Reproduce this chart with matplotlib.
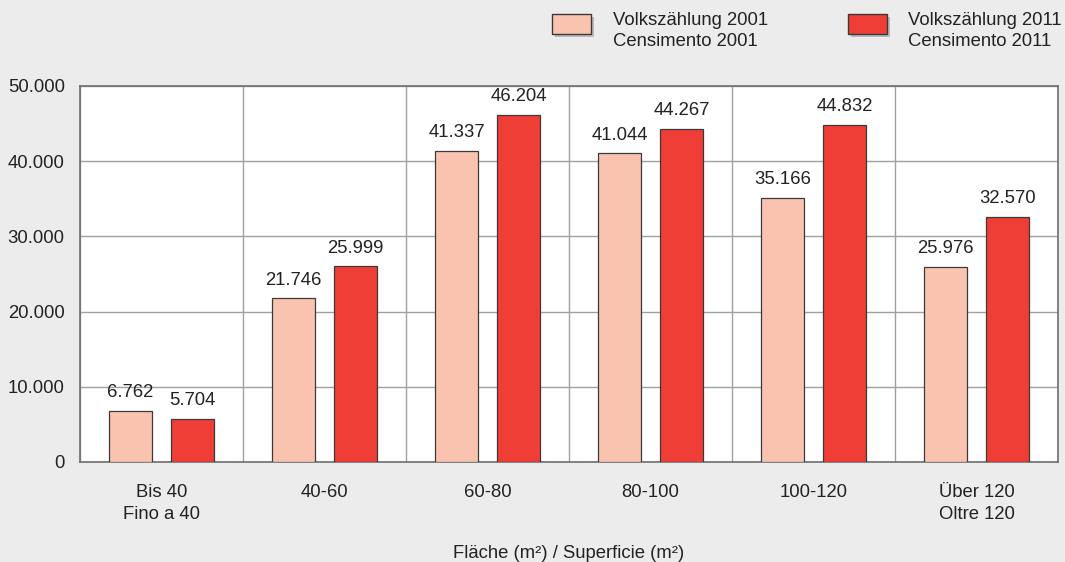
import numpy as np
import matplotlib.pyplot as plt
from matplotlib.patches import Rectangle

plt.rcParams.update({'font.family': ['Liberation Sans', 'DejaVu Sans'], 'font.size': 13.3})

# Daten
kategorien = ["Bis 40\nFino a 40", "40-60", "60-80", "80-100", "100-120", "Über 120\nOltre 120"]
werte_2001 = [6762, 21746, 41337, 41044, 35166, 25976]
werte_2011 = [5704, 25999, 46204, 44267, 44832, 32570]
serien = ["Volkszählung 2001\nCensimento 2001", "Volkszählung 2011\nCensimento 2011"]
yticks = [0, 10000, 20000, 30000, 40000, 50000]

farbe_hell = '#f9c3b0'
farbe_rot = '#ee3e36'
bg = '#ececec'

def fmt(v):
    return f"{v:,}".replace(",", ".")

fig = plt.figure(figsize=(10.65, 5.62), dpi=100, facecolor=bg)
ax = fig.add_axes([80/1065, 1 - 462/562, 978/1065, 376/562])
ax.set_facecolor('white')

x = np.arange(len(kategorien))
b = 0.265
off = 0.19
for dx, werte, farbe in [(-off, werte_2001, farbe_hell), (off, werte_2011, farbe_rot)]:
    bars = ax.bar(x + dx, werte, width=b, color=farbe, edgecolor='#3a3a3a', linewidth=0.9, zorder=3)
    for r, v in zip(bars, werte):
        ax.text(r.get_x() + r.get_width() / 2, v + 1300, fmt(v), ha='center', va='bottom',
                color='#222222')

ax.set_xlim(-0.5, len(kategorien) - 0.5)
ax.set_ylim(0, 50000)
ax.set_yticks(yticks)
ax.set_yticklabels([fmt(v) for v in yticks], color='#222222')
ax.set_xticks(x)
ax.set_xticklabels(kategorien, color='#222222', linespacing=1.35)
ax.set_xticks(np.arange(len(kategorien) + 1) - 0.5, minor=True)
ax.tick_params(axis='both', which='both', length=0)
ax.tick_params(axis='x', pad=16)
ax.tick_params(axis='y', pad=11)
ax.grid(True, axis='y', color='#a0a0a0', linewidth=1.0, zorder=0)
ax.grid(True, axis='x', which='minor', color='#a0a0a0', linewidth=1.0, zorder=0)
for s in ax.spines.values():
    s.set_color('#6e6e6e')
    s.set_linewidth(1.2)

ax.set_xlabel("Fläche (m²) / Superficie (m²)", color='#222222', labelpad=16)

# Legende
for (lx, tx), farbe, txt in zip([(552, 613), (848, 908)], [farbe_hell, farbe_rot], serien):
    sh = Rectangle((lx + 3, 562 - 37), 39, 20, transform=None, facecolor='#9a9a9a',
                   edgecolor='none', alpha=0.6)
    fig.add_artist(sh)
    rect = Rectangle((lx, 562 - 34), 39, 20, transform=None, facecolor=farbe,
                     edgecolor='#3a3a3a', linewidth=1.0)
    fig.add_artist(rect)
    fig.text(tx / 1065, 1 - 12 / 562, txt, ha='left', va='top', color='#222222',
             linespacing=1.3)

fig.savefig("out.png", dpi=100, facecolor=bg)
